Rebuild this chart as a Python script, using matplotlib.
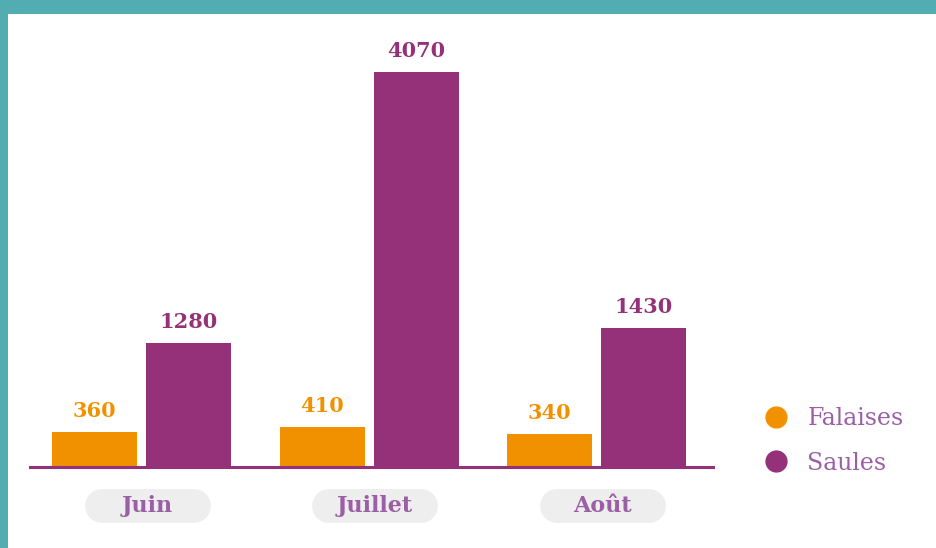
import matplotlib
matplotlib.use("Agg")
import matplotlib.pyplot as plt
from matplotlib.lines import Line2D
from matplotlib.patches import Rectangle
import matplotlib.transforms as mtransforms
import numpy as np

categories = ["Juin", "Juillet", "Août"]
falaises = [360, 410, 340]
saules = [1280, 4070, 1430]
series_names = ["Falaises", "Saules"]

ORANGE = "#F29100"
PURPLE = "#943178"
LABEL = "#9B5FA5"
TEAL = "#52ADB3"
PILL = "#EEEEEE"

W, H = 936, 548
fig = plt.figure(figsize=(W / 100, H / 100), dpi=100)
fig.patch.set_facecolor("white")

# teal frame on top and left
fig.add_artist(Rectangle((0, (H - 14) / H), 1, 14 / H, transform=fig.transFigure,
                         color=TEAL, lw=0, zorder=0))
fig.add_artist(Rectangle((0, 0), 8 / W, 1, transform=fig.transFigure,
                         color=TEAL, lw=0, zorder=0))

left, right = 30, 713
base, top = 467, 14
ax = fig.add_axes([left / W, (H - base) / H, (right - left) / W, (base - top) / H])
ax.set_facecolor("none")

spacing = 227.5
ax.set_xlim(-(141.5 - left) / spacing, 2 + (right - 596.5) / spacing)
ax.set_ylim(0, 4070 * (base - top) / (base - 72))

x = np.arange(len(categories))
bw = 85 / spacing
off = 47 / spacing
b1 = ax.bar(x - off, falaises, bw, color=ORANGE, zorder=2)
b2 = ax.bar(x + off, saules, bw, color=PURPLE, zorder=2)

for bars, vals, col in ((b1, falaises, ORANGE), (b2, saules, PURPLE)):
    for r, v in zip(bars, vals):
        ax.annotate(f"{v}", (r.get_x() + r.get_width() / 2, v), xytext=(0, 8),
                    textcoords="offset points", ha="center", va="bottom",
                    fontsize=15, fontweight="bold", color=col,
                    family="DejaVu Serif")

for s in ["top", "right", "left"]:
    ax.spines[s].set_visible(False)
ax.spines["bottom"].set_color(PURPLE)
ax.spines["bottom"].set_linewidth(2.2)
ax.spines["bottom"].set_zorder(3)
ax.set_yticks([])
ax.set_xticks([])

# pill category labels
trans = mtransforms.blended_transform_factory(ax.transData, ax.transAxes)
yc = -(506 - base) / (base - top)
half = 46 / spacing
for xi, c in zip(x + 6 / spacing, categories):
    ax.plot([xi - half, xi + half], [yc, yc], transform=trans, color=PILL,
            lw=34 * 72 / 100, solid_capstyle="round", clip_on=False, zorder=1)
    ax.text(xi, yc, c, transform=trans, ha="center", va="center",
            fontsize=16, fontweight="bold", color=LABEL, family="DejaVu Serif")

# legend
handles = [Line2D([], [], marker="o", linestyle="none", markersize=15,
                  markerfacecolor=col, markeredgecolor=col)
           for col in (ORANGE, PURPLE)]
leg = fig.legend(handles, series_names, loc="center left",
                 bbox_to_anchor=(752 / W, (H - 441) / H), frameon=False,
                 prop={"family": "DejaVu Serif", "size": 17},
                 labelcolor=LABEL, handletextpad=0.85, labelspacing=0.9,
                 handlelength=1.0, borderpad=0)

fig.savefig("out.png", dpi=100, facecolor="white")
